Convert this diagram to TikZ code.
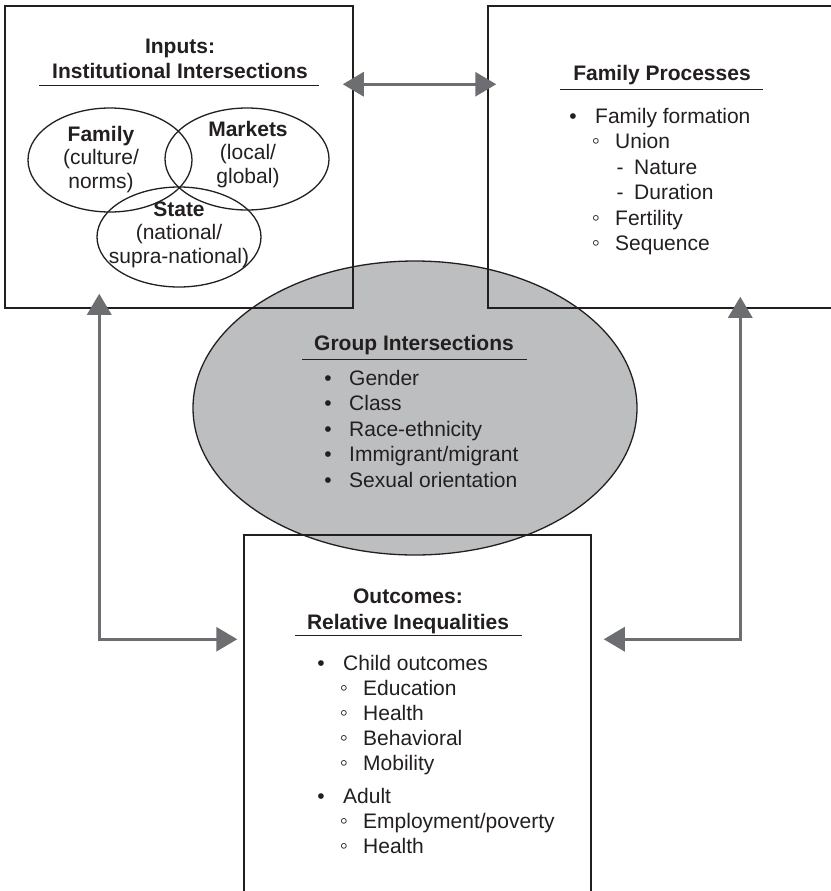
\documentclass[tikz,border=0pt]{standalone}
\usepackage{fontspec}
\setmainfont{Liberation Sans}
\usetikzlibrary{arrows.meta,shapes.geometric,calc}
\definecolor{ink}{HTML}{231F20}
\definecolor{arrgray}{HTML}{6D6E71}
\definecolor{grpfill}{HTML}{BCBEC0}
\begin{document}
\begin{tikzpicture}[x=1pt,y=-1pt,
  txt/.style={font=\fontsize{21}{25}\selectfont, inner sep=0pt, text=ink, anchor=base},
  txtl/.style={txt, anchor=base west},
  ttl/.style={font=\fontsize{21}{25}\selectfont\bfseries, inner sep=0pt, text=ink, anchor=base},
  boxst/.style={draw=ink, line width=1.5pt, rectangle, inner sep=0pt},
  venn/.style={draw=ink, line width=1.3pt, ellipse, inner sep=0pt},
  rule/.style={draw=ink, line width=1pt},
  arr/.style={draw=arrgray, line width=3pt,
    {Triangle[length=21pt,width=24pt]}-{Triangle[length=21pt,width=24pt]}},
  subb/.style={txt, font=\fontsize{23}{25}\selectfont}
]
\useasboundingbox (0,0) rectangle (830,891);
\fill[white] (0,0) rectangle (830,891);

% central gray ellipse
\node[ellipse, draw=ink, line width=1.3pt, fill=grpfill, inner sep=0pt,
      minimum width=444pt, minimum height=294pt] (grp) at (415,408) {};

% boxes
\node[boxst, minimum width=348pt, minimum height=302pt] (boxIn) at (179,157) {};
\node[boxst, minimum width=360pt, minimum height=302pt] (boxFP) at (668,157) {};
\node[boxst, minimum width=347pt, minimum height=375pt] (boxOut) at (417.5,722.5) {};

% ---- Inputs box
\node[ttl] (inT1) at (180,53) {Inputs:};
\node[ttl] (inT2) at (180,78) {Institutional Intersections};
\draw[rule] (39,85) -- (319,85);

\node[venn, minimum width=164pt, minimum height=104pt] (vFam) at (110,160) {};
\node[venn, minimum width=164pt, minimum height=102pt] (vMkt) at (247,159) {};
\node[venn, minimum width=164pt, minimum height=100pt] (vSt) at (179,237) {};

\node[ttl] (famA) at (101,141) {Family};
\node[txt] (famB) at (101,164.5) {(culture/};
\node[txt] (famC) at (101,188) {norms)};
\node[ttl] (mktA) at (248,136) {Markets};
\node[txt] (mktB) at (248,159.5) {(local/};
\node[txt] (mktC) at (248,183) {global)};
\node[ttl] (stA) at (179,216) {State};
\node[txt] (stB) at (179,239.5) {(national/};
\node[txt] (stC) at (179,263) {supra-national)};

% ---- Family Processes box
\node[ttl] (fpT) at (662,81) {Family Processes};
\draw[rule] (560,89) -- (763,89);
\node[txt] (fpb1) at (573,123) {•};
\node[txtl] (fp1) at (595,123) {Family formation};
\node[subb] (fpb2) at (596,148.5) {◦};
\node[txtl] (fp2) at (615,148.5) {Union};
\node[txt] (fpb3) at (620,174) {-};
\node[txtl] (fp3) at (634,174) {Nature};
\node[txt] (fpb4) at (620,199.5) {-};
\node[txtl] (fp4) at (634,199.5) {Duration};
\node[subb] (fpb5) at (596,225) {◦};
\node[txtl] (fp5) at (615,225) {Fertility};
\node[subb] (fpb6) at (596,250.5) {◦};
\node[txtl] (fp6) at (615,250.5) {Sequence};

% ---- Group Intersections
\node[ttl] (grT) at (414,350) {Group Intersections};
\draw[rule] (302,359) -- (527,359);
\foreach \t/\yy [count=\i] in {{Gender}/385, {Class}/410.5, {Race-ethnicity}/436,
    {Immigrant/migrant}/461.5, {Sexual orientation}/487}{
  \node[txt] (grb\i) at (328,\yy) {•};
  \node[txtl] (gr\i) at (349,\yy) {\t};
}

% ---- Outcomes box
\node[ttl] (ouT1) at (408,603) {Outcomes:};
\node[ttl] (ouT2) at (408,629) {Relative Inequalities};
\draw[rule] (295,635) -- (522,635);
\node[txt] (oub1) at (321,670) {•};
\node[txtl] (ou1) at (343,670) {Child outcomes};
\foreach \t/\yy [count=\i] in {{Education}/695, {Health}/720, {Behavioral}/745, {Mobility}/770}{
  \node[subb] (ocb\i) at (344,\yy) {◦};
  \node[txtl] (oc\i) at (363,\yy) {\t};
}
\node[txt] (oub2) at (321,803) {•};
\node[txtl] (ou2) at (343,803) {Adult};
\foreach \t/\yy [count=\i] in {{Employment/poverty}/828, {Health}/853}{
  \node[subb] (oab\i) at (344,\yy) {◦};
  \node[txtl] (oa\i) at (363,\yy) {\t};
}

% ---- arrows
\draw[arr] ($(boxIn.north east)+(-11,79)$) -- ($(boxFP.north west)+(9,79)$);
\draw[arr] ($(boxIn.south west)+(95,-15)$) |- ($(boxOut.north west)+(-6,105)$);
\draw[arr] ($(boxFP.south west)+(253,-12)$) |- ($(boxOut.north east)+(12,105)$);
\end{tikzpicture}
\end{document}
